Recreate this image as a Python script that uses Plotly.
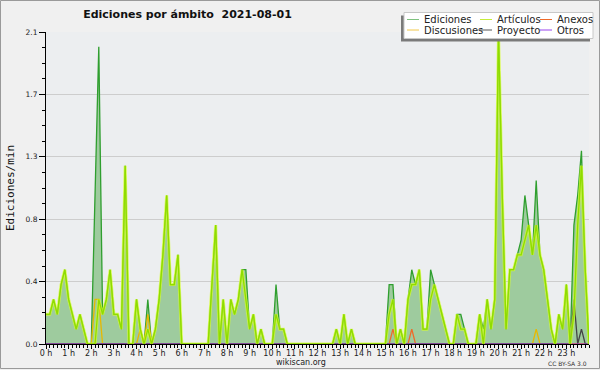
import plotly.graph_objects as go

# ---------------- data (10-minute buckets, edits per minute) ----------------
hour_labels = [f"{h} h" for h in range(24)]
slots = [i / 6 for i in range(145)]  # 00:00 ... 24:00 in hours

ediciones = [
    0.2, 0.2, 0.3, 0.2, 0.4, 0.5, 0.3, 0.2, 0.1, 0.2,
    0.1, 0.0, 0.0, 1.0, 2.0, 0.2, 0.3, 0.5, 0.2, 0.2,
    0.1, 1.2, 0.0, 0.0, 0.3, 0.1, 0.0, 0.3, 0.0, 0.1,
    0.3, 0.6, 1.0, 0.4, 0.4, 0.6, 0.0, 0.0, 0.0, 0.0,
    0.0, 0.0, 0.0, 0.0, 0.4, 0.8, 0.0, 0.3, 0.0, 0.3,
    0.2, 0.3, 0.5, 0.5, 0.1, 0.2, 0.0, 0.1, 0.0, 0.0,
    0.0, 0.4, 0.1, 0.1, 0.0, 0.0, 0.0, 0.0, 0.0, 0.0,
    0.0, 0.0, 0.0, 0.0, 0.0, 0.0, 0.0, 0.1, 0.0, 0.2,
    0.0, 0.1, 0.0, 0.0, 0.0, 0.0, 0.0, 0.0, 0.0, 0.0,
    0.0, 0.4, 0.4, 0.0, 0.1, 0.0, 0.3, 0.5, 0.4, 0.5,
    0.1, 0.1, 0.5, 0.4, 0.3, 0.2, 0.1, 0.0, 0.0, 0.2,
    0.2, 0.1, 0.0, 0.0, 0.0, 0.2, 0.1, 0.3, 0.1, 0.3,
    2.1, 1.0, 0.1, 0.5, 0.5, 0.6, 0.7, 1.0, 0.8, 0.6,
    1.1, 0.6, 0.5, 0.3, 0.1, 0.0, 0.2, 0.1, 0.4, 0.0,
    0.8, 1.0, 1.3, 0.5, 0.0,
]
articulos = [
    0.2, 0.2, 0.3, 0.2, 0.4, 0.5, 0.3, 0.2, 0.1, 0.2,
    0.1, 0.0, 0.0, 0.0, 0.3, 0.2, 0.3, 0.5, 0.2, 0.2,
    0.1, 1.2, 0.0, 0.0, 0.3, 0.1, 0.0, 0.1, 0.0, 0.1,
    0.3, 0.6, 1.0, 0.4, 0.4, 0.6, 0.0, 0.0, 0.0, 0.0,
    0.0, 0.0, 0.0, 0.0, 0.4, 0.8, 0.0, 0.3, 0.0, 0.3,
    0.2, 0.3, 0.5, 0.3, 0.1, 0.2, 0.0, 0.1, 0.0, 0.0,
    0.0, 0.2, 0.1, 0.1, 0.0, 0.0, 0.0, 0.0, 0.0, 0.0,
    0.0, 0.0, 0.0, 0.0, 0.0, 0.0, 0.0, 0.1, 0.0, 0.2,
    0.0, 0.1, 0.0, 0.0, 0.0, 0.0, 0.0, 0.0, 0.0, 0.0,
    0.0, 0.2, 0.3, 0.0, 0.1, 0.0, 0.3, 0.4, 0.4, 0.5,
    0.1, 0.1, 0.3, 0.4, 0.3, 0.2, 0.1, 0.0, 0.0, 0.2,
    0.1, 0.1, 0.0, 0.0, 0.0, 0.2, 0.0, 0.3, 0.1, 0.3,
    2.1, 1.0, 0.1, 0.5, 0.5, 0.6, 0.6, 0.7, 0.8, 0.6,
    0.8, 0.6, 0.5, 0.3, 0.1, 0.0, 0.2, 0.1, 0.4, 0.0,
    0.2, 0.8, 1.2, 0.5, 0.0,
]
discusiones = [0.0] * 13 + [0.3, 0.3] + [0.0] * 10 + [0.1, 0.0, 0.2] + [0.0] * 102 + [0.1] + [0.0] * 14
anexos = [0.0] * 92 + [0.1] + [0.0] * 4 + [0.1] + [0.0] * 47
proyecto = [0.0] * 140 + [0.3, 0.0, 0.1, 0.0, 0.0]
otros = [0.0] * 145

y_tickvals = [0, 0.42, 0.84, 1.26, 1.68, 2.1]
y_ticktext = ["0.0", "0.4", "0.8", "1.3", "1.7", "2.1"]

# ---------------- styling ----------------
W, H = 600, 370
L, R, T, B = 46, 11, 32, 26
PW, PH = W - L - R, H - T - B


def px(x):
    return (x - L) / PW


def py(y):
    return (H - B - y) / PH


C_ED_LINE = "#2f9f2f"
C_ED_FILL = "#9ecb9e"
C_ART = "#8fdc00"
C_ART_GLOW = "rgba(215,255,40,0.7)"
C_DISC = "#e8b800"
C_ANEX = "#ee6a2a"
C_PROY = "#444444"
C_OTROS = "#9944ee"
FONT = "DejaVu Sans"

fig = go.Figure()
fig.add_trace(go.Scatter(x=slots, y=ediciones, name="Ediciones", mode="lines",
                         line=dict(color=C_ED_LINE, width=1.3), fill="tozeroy",
                         fillcolor=C_ED_FILL, showlegend=False))
fig.add_trace(go.Scatter(x=slots, y=discusiones, name="Discusiones", mode="lines",
                         line=dict(color=C_DISC, width=1.3), showlegend=False))
fig.add_trace(go.Scatter(x=slots, y=anexos, name="Anexos", mode="lines",
                         line=dict(color=C_ANEX, width=1.3), showlegend=False))
fig.add_trace(go.Scatter(x=slots, y=proyecto, name="Proyecto", mode="lines",
                         line=dict(color=C_PROY, width=1.3), showlegend=False))
fig.add_trace(go.Scatter(x=slots, y=otros, name="Otros", mode="lines",
                         line=dict(color=C_OTROS, width=1), showlegend=False))
fig.add_trace(go.Scatter(x=slots, y=articulos, name="Artículos glow", mode="lines",
                         line=dict(color=C_ART_GLOW, width=3), showlegend=False,
                         hoverinfo="skip"))
fig.add_trace(go.Scatter(x=slots, y=articulos, name="Artículos", mode="lines",
                         line=dict(color=C_ART, width=1.3), showlegend=False))

shapes = []
# outer frame
shapes.append(dict(type="rect", xref="paper", yref="paper", x0=px(0.5), x1=px(599.5),
                   y0=py(368.5), y1=py(0.5), line=dict(color="#9a9a9a", width=1),
                   fillcolor="rgba(0,0,0,0)", layer="below"))
# legend box with shadow
shapes.append(dict(type="rect", xref="paper", yref="paper", x0=px(401), x1=px(590),
                   y0=py(41.5), y1=py(15.5), line=dict(width=0), fillcolor="#7a7a7a",
                   layer="above"))
shapes.append(dict(type="rect", xref="paper", yref="paper", x0=px(404), x1=px(593),
                   y0=py(38.5), y1=py(12.5), line=dict(color="#c8c8c8", width=1),
                   fillcolor="#ffffff", layer="above"))

legend_items = [
    ("Ediciones", "#7fc27f", 407, 19.5), ("Artículos", "#c6ec3a", 480, 19.5),
    ("Anexos", C_ANEX, 540, 19.5),
    ("Discusiones", "#f2c84a", 407, 30), ("Proyecto", "#555555", 480, 30),
    ("Otros", C_OTROS, 540, 30),
]
annotations = []
for name, col, x0, yc in legend_items:
    shapes.append(dict(type="line", xref="paper", yref="paper", x0=px(x0), x1=px(x0 + 12),
                       y0=py(yc), y1=py(yc), line=dict(color=col, width=1), layer="above"))
    annotations.append(dict(text=name, xref="paper", yref="paper", x=px(x0 + 15), y=py(yc),
                            xanchor="left", yanchor="middle", showarrow=False,
                            font=dict(family=FONT, size=10, color="#222222")))

annotations.append(dict(text="Ediciones/min", xref="paper", yref="paper", x=px(10), y=py(188),
                        xanchor="center", yanchor="middle", textangle=-90, showarrow=False,
                        font=dict(family="DejaVu Sans Mono", size=11, color="#111111")))
annotations.append(dict(text="wikiscan.org", xref="paper", yref="paper", x=px(300.5), y=py(362),
                        xanchor="center", yanchor="middle", showarrow=False,
                        font=dict(family=FONT, size=8, color="#222222")))
annotations.append(dict(text="CC BY-SA 3.0", xref="paper", yref="paper", x=px(589), y=py(363),
                        xanchor="right", yanchor="middle", showarrow=False,
                        font=dict(family=FONT, size=6, color="#333333")))

fig.update_layout(
    width=W, height=H,
    margin=dict(l=L, r=R, t=T, b=B, pad=0),
    paper_bgcolor="#f0f0f0",
    plot_bgcolor="#eceef0",
    showlegend=False,
    title=dict(text="Ediciones por ámbito\u00a0 2021-08-01", xref="container", yref="container",
               x=187.5 / W, y=1 - 14 / H, xanchor="center", yanchor="middle",
               font=dict(family=FONT, size=11, color="#111111", weight="bold")),
    shapes=shapes,
    annotations=annotations,
    xaxis=dict(range=[0, 24], tickmode="array", tickvals=list(range(24)), ticktext=hour_labels,
               showline=True, linecolor="black", linewidth=1, ticks="outside", ticklen=4,
               tickcolor="black", tickwidth=1, showgrid=False, zeroline=False,
               ticklabelstandoff=-3,
               tickfont=dict(family=FONT, size=8, color="#222222"),
               minor=dict(tickmode="linear", tick0=0, dtick=1 / 6, ticks="outside", ticklen=3,
                          tickcolor="black", showgrid=False),
               fixedrange=True),
    yaxis=dict(range=[0, 2.1], tickmode="array", tickvals=y_tickvals, ticktext=y_ticktext,
               showline=True, linecolor="black", linewidth=1, ticks="outside", ticklen=6,
               tickcolor="black", tickwidth=1, showgrid=True, gridcolor="#cdcdcd", gridwidth=1,
               zeroline=False, tickfont=dict(family=FONT, size=7.5, color="#222222"),
               minor=dict(tickmode="linear", tick0=0, dtick=0.105, ticks="outside", ticklen=3,
                          tickcolor="black", showgrid=False),
               fixedrange=True),
)

fig.write_html("out.html", config={"displayModeBar": False, "staticPlot": True},
               post_script="document.body.style.margin='0';document.body.style.background='#f0f0f0';")
